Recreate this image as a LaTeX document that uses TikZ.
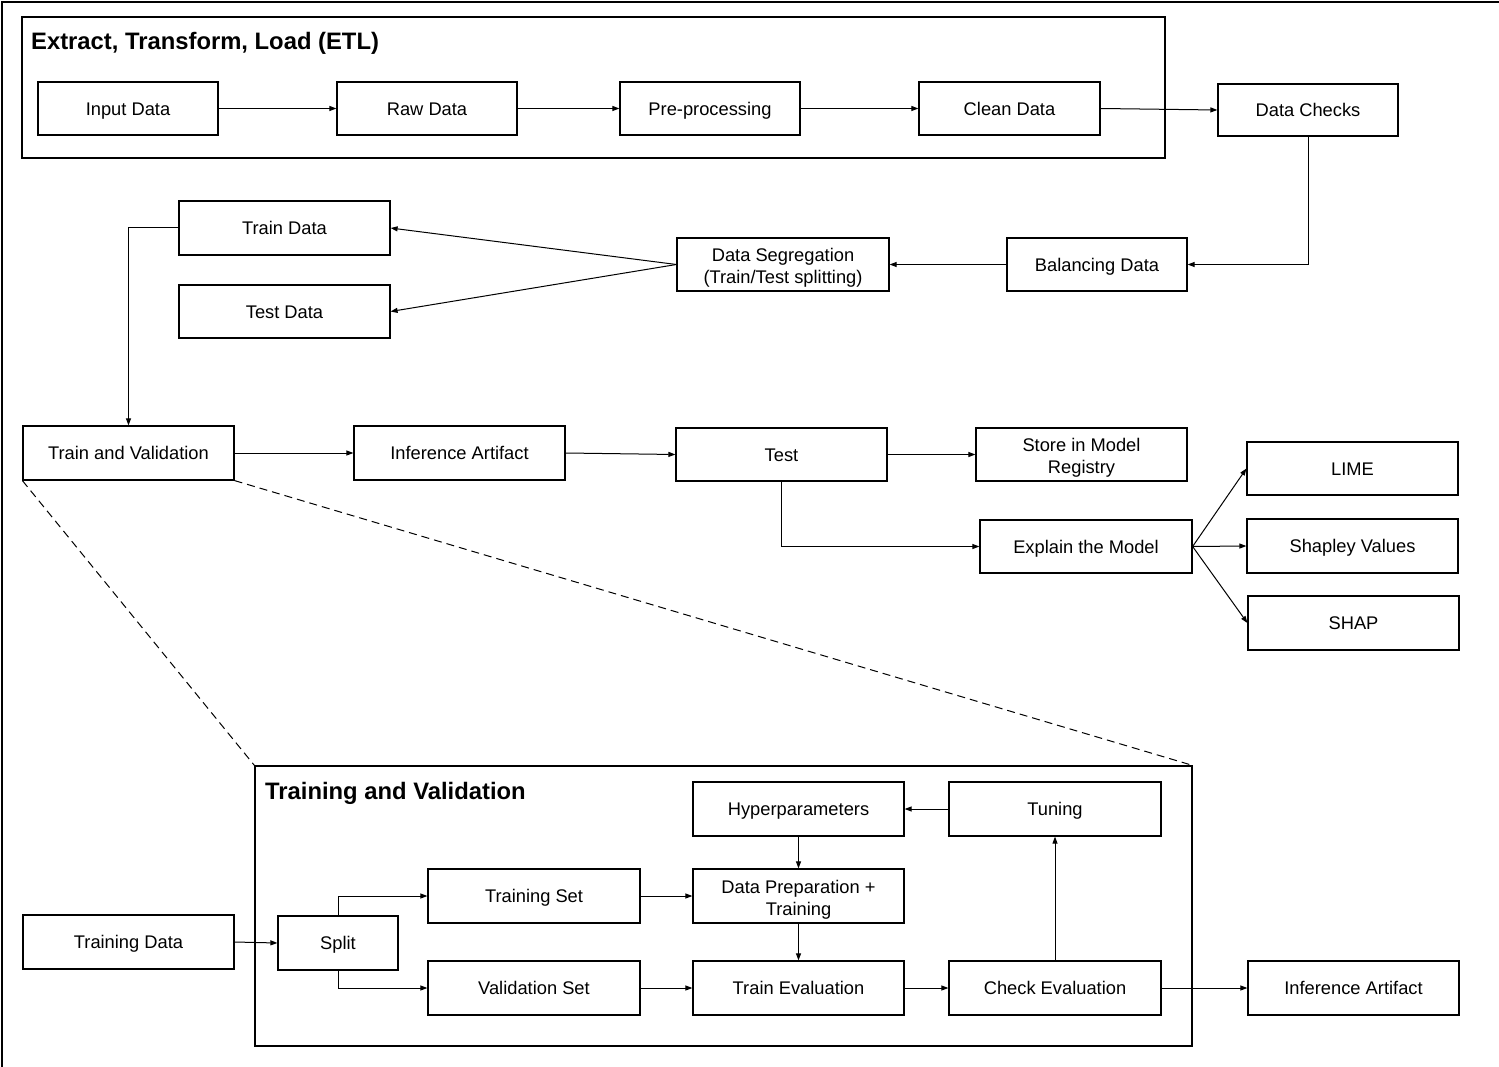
\documentclass[tikz,border=0pt]{standalone}
\usepackage{fontspec}
\setmainfont{Liberation Sans}
\usetikzlibrary{arrows.meta}
\begin{document}
\begin{tikzpicture}[x=1pt,y=-1pt,
  every node/.style={font=\fontsize{18.3}{22}\selectfont},
  box/.style={draw, line width=1.2pt, rectangle, inner sep=0pt, align=center, text height=13.1pt, text depth=0pt},
  twoline/.style={text height=38pt, text depth=0pt},
  frame/.style={draw, line width=1.2pt, rectangle, inner sep=0pt},
  ttl/.style={anchor=west, inner sep=0pt, text height=17pt, text depth=0pt, font=\fontsize{23.8}{28}\selectfont\bfseries},
  conn/.style={line width=1pt, -{Triangle[length=7pt,width=5pt]}},
  zoomline/.style={line width=1pt, dash pattern=on 8pt off 5pt}]
\useasboundingbox (0,0) rectangle (1499,1067);
\draw[line width=1.3pt] (1499,2) -- (2,2) -- (2,1067);

% containers
\node[frame, minimum width=1143pt, minimum height=141pt] (etl) at (593.5,87.5) {};
\node[ttl] (etltitle) at (31,41.5) {Extract, Transform, Load (ETL)};
\node[frame, minimum width=937pt, minimum height=280pt] (tvbox) at (723.5,906) {};
\node[ttl] (tvtitle) at (265,790.5) {Training and Validation};

% ETL row
\node[box, minimum width=180pt, minimum height=53pt] (input) at (128,108.5) {Input Data};
\node[box, minimum width=180pt, minimum height=53pt] (raw) at (427,108.5) {Raw Data};
\node[box, minimum width=180pt, minimum height=53pt] (pre) at (710,108.5) {Pre-processing};
\node[box, minimum width=181pt, minimum height=53pt] (clean) at (1009.5,108.5) {Clean Data};
\node[box, minimum width=180pt, minimum height=52pt] (checks) at (1308,110) {Data Checks};

% segregation row
\node[box, minimum width=211pt, minimum height=54pt] (traindata) at (284.5,228) {Train Data};
\node[box, minimum width=211pt, minimum height=53pt] (testdata) at (284.5,311.5) {Test Data};
\node[box, twoline, minimum width=212pt, minimum height=53pt] (seg) at (783,264.5) {Data Segregation\\(Train/Test splitting)};
\node[box, minimum width=180pt, minimum height=53pt] (bal) at (1097,264.5) {Balancing Data};

% model row
\node[box, minimum width=211pt, minimum height=54pt] (tv) at (128.5,453) {Train and Validation};
\node[box, minimum width=211pt, minimum height=54pt] (inf1) at (459.5,453) {Inference Artifact};
\node[box, minimum width=211pt, minimum height=53pt] (test) at (781.5,454.5) {Test};
\node[box, twoline, minimum width=211pt, minimum height=53pt] (store) at (1081.5,454.5) {Store in Model\\Registry};
\node[box, minimum width=212pt, minimum height=53pt] (explain) at (1086,546.5) {Explain the Model};
\node[box, minimum width=211pt, minimum height=53pt] (lime) at (1352.5,468.5) {LIME};
\node[box, minimum width=211pt, minimum height=54pt] (shapley) at (1352.5,546) {Shapley Values};
\node[box, minimum width=211pt, minimum height=54pt] (shap) at (1353.5,623) {SHAP};

% training and validation detail
\node[box, minimum width=211pt, minimum height=54pt] (hyper) at (798.5,809) {Hyperparameters};
\node[box, minimum width=212pt, minimum height=54pt] (tuning) at (1055,809) {Tuning};
\node[box, twoline, minimum width=211pt, minimum height=54pt] (prep) at (798.5,896) {Data Preparation +\\Training};
\node[box, minimum width=212pt, minimum height=54pt] (trainset) at (534,896) {Training Set};
\node[box, minimum width=120pt, minimum height=54pt] (split) at (338,943) {Split};
\node[box, minimum width=211pt, minimum height=54pt] (trainingdata) at (128.5,942) {Training Data};
\node[box, minimum width=212pt, minimum height=54pt] (valset) at (534,988) {Validation Set};
\node[box, minimum width=211pt, minimum height=54pt] (traineval) at (798.5,988) {Train Evaluation};
\node[box, minimum width=212pt, minimum height=54pt] (checkeval) at (1055,988) {Check Evaluation};
\node[box, minimum width=211pt, minimum height=54pt] (inf2) at (1353.5,988) {Inference Artifact};

% connectors
\draw[conn] (input.east) -- (raw.west);
\draw[conn] (raw.east) -- (pre.west);
\draw[conn] (pre.east) -- (clean.west);
\draw[conn] (clean.east) -- (checks.west);
\draw[conn] (checks.south) |- (bal.east);
\draw[conn] (bal.west) -- (seg.east);
\draw[conn] (seg.west) -- (traindata.east);
\draw[conn] (seg.west) -- (testdata.east);
\draw[conn] (traindata.west) -| (tv.north);
\draw[conn] (tv.east) -- (inf1.west);
\draw[conn] (inf1.east) -- (test.west);
\draw[conn] (test.east) -- (store.west);
\draw[conn] (test.south) |- (explain.west);
\draw[conn] (explain.east) -- (lime.west);
\draw[conn] (explain.east) -- (shapley.west);
\draw[conn] (explain.east) -- (shap.west);

\draw[zoomline] (tv.south west) -- (tvbox.north west);
\draw[zoomline] (tv.south east) -- (tvbox.north east);

\draw[conn] (trainingdata.east) -- (split.west);
\draw[conn] (split.north) |- (trainset.west);
\draw[conn] (split.south) |- (valset.west);
\draw[conn] (trainset.east) -- (prep.west);
\draw[conn] (valset.east) -- (traineval.west);
\draw[conn] (hyper.south) -- (prep.north);
\draw[conn] (prep.south) -- (traineval.north);
\draw[conn] (traineval.east) -- (checkeval.west);
\draw[conn] (checkeval.north) -- (tuning.south);
\draw[conn] (tuning.west) -- (hyper.east);
\draw[conn] (checkeval.east) -- (inf2.west);
\end{tikzpicture}
\end{document}
